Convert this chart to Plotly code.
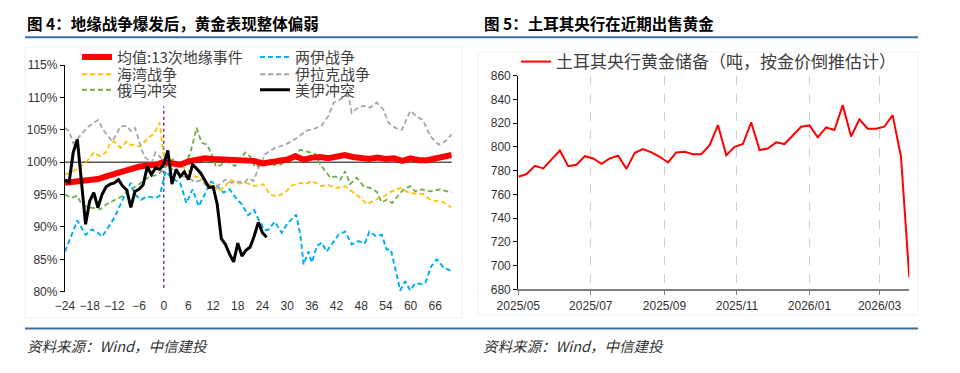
import plotly.graph_objects as go
import pandas as pd

W, H = 960, 373

# ---------------- Left panel data (图4) ----------------
x_ticks_left = list(range(-24, 67, 6))
y_ticks_left = [80, 85, 90, 95, 100, 105, 110, 115]
y_labels_left = ["80%", "85%", "90%", "95%", "100%", "105%", "110%", "115%"]

mean_t = list(range(-24, 71, 2))
mean_v = [96.8, 96.9, 97.0, 97.1, 97.4, 97.8, 98.2, 98.6, 99.0, 99.3, 99.5, 99.6,
          100.0, 99.7, 99.6, 100.1, 100.4, 100.6, 100.5, 100.4, 100.4, 100.2, 100.3, 100.2,
          99.8, 100.0, 100.2, 100.4, 100.9, 100.4, 100.7, 100.8, 100.6, 100.8, 101.1, 100.8,
          100.7, 100.5, 100.7, 100.5, 100.6, 100.2, 100.6, 100.3, 100.3, 100.6, 100.9, 101.1]

iran_iraq_t = [-24, -22, -21, -19, -17.5, -16, -15, -13, -12, -10, -8, -7, -5.5, -4, -2, -1,
               0.5, 2, 4, 5.5, 7, 8.5, 10, 11.5, 12.5, 14.5, 16, 17.5, 19, 20.5, 22, 23, 24.5,
               25.5, 27, 28.7, 30, 31.5, 32.2, 33.2, 34, 35.2, 36, 37.2, 38.4, 39.6, 41, 42.5,
               44.1, 45.7, 47.3, 48.9, 50, 51.5, 53, 54.2, 55.2, 56.3, 57.5, 58.7, 59.9, 61.1,
               62.8, 63.6, 65, 66.4, 68, 70]
iran_iraq_v = [86.2, 89.6, 91.0, 88.8, 89.6, 89.1, 88.5, 90.4, 91.4, 94.2, 96.8, 95.0, 94.2,
               94.7, 94.5, 94.8, 98.6, 97.5, 96.8, 93.7, 95.8, 93.2, 95.0, 97.0, 96.6, 95.3,
               95.8, 94.5, 93.5, 91.8, 92.6, 91.2, 89.5, 89.6, 90.8, 89.1, 90.5, 91.5, 91.9,
               88.8, 84.2, 86.2, 84.5, 87.0, 87.6, 86.2, 87.4, 88.8, 89.3, 87.3, 87.8, 87.5,
               89.3, 88.6, 88.8, 86.5, 86.5, 83.4, 80.2, 81.6, 80.2, 81.3, 81.2, 81.4, 83.9,
               85.0, 83.7, 83.2]

gulf_t = [-24, -22, -20, -18.5, -17, -15.5, -14, -13, -12, -10.5, -9, -8, -6, -5, -3.7, -2.5,
          -1, 0, 1.5, 3, 4.5, 6, 7.5, 9, 10.5, 12, 13.3, 15, 16.1, 18.2, 20, 22.2, 24.2, 25.9,
          27.5, 29.5, 31.1, 33.2, 34.5, 36, 38.4, 40, 42, 44, 45.7, 47.8, 49.4, 51.4, 53.4,
          55.5, 57.5, 59.5, 61.5, 63, 64.8, 66.4, 68, 70]
gulf_v = [98.1, 98.6, 99.4, 100.3, 101.5, 100.9, 101.5, 103.0, 103.2, 102.2, 103.2, 102.7,
          102.4, 102.9, 103.8, 104.3, 106.1, 100.9, 100.5, 100.0, 99.3, 98.7, 97.8, 97.6,
          96.6, 96.5, 95.5, 96.3, 97.3, 96.7, 96.8, 96.3, 96.6, 95.0, 94.7, 95.3, 96.4, 96.8,
          96.6, 97.1, 96.3, 96.5, 96.0, 96.3, 95.5, 94.5, 93.5, 94.2, 94.7, 95.5, 96.0, 95.3,
          95.1, 95.1, 94.2, 94.0, 93.8, 93.0]

iraq_t = [-24, -23, -22, -20, -18.5, -16, -14.5, -12.5, -10.5, -9, -8, -7, -6, -4.8, -3, -2,
          -1, 0, 1.5, 3, 4.5, 6, 7.5, 9, 10.5, 12, 13.5, 15, 16.5, 18, 19.5, 20.6, 21.8, 23,
          24.6, 27, 29.5, 31, 33, 34.5, 36.8, 38.4, 40, 41.3, 42.9, 44.9, 45.7, 47, 48.6, 50.2,
          51.8, 53.4, 54.6, 56.3, 57.9, 59.9, 61.9, 63, 64.8, 66.8, 68.4, 70]
iraq_v = [105.3, 104.8, 102.9, 104.3, 105.4, 106.5, 104.8, 103.2, 105.5, 105.6, 104.8, 105.3,
          103.2, 100.9, 99.9, 101.5, 100.9, 100.2, 99.2, 98.5, 97.8, 97.6, 96.9, 97.2, 96.3,
          95.8, 96.6, 97.3, 96.8, 97.0, 96.8, 97.5, 97.1, 99.0, 101.2, 102.2, 102.7, 103.2,
          104.0, 104.8, 105.2, 105.7, 107.1, 109.2, 109.7, 110.3, 107.6, 108.3, 108.7, 108.4,
          109.2, 108.1, 106.1, 105.3, 105.0, 107.9, 106.9, 106.5, 104.0, 102.7, 103.2, 104.3]

ru_t = [-24, -22.4, -21, -20, -18.3, -16.5, -15.5, -13.9, -11.8, -10.2, -8.2, -6.6, -5, -3.3,
        -1.7, -0.5, 0.7, 2.3, 3.5, 5.2, 6.5, 8, 9.2, 10.5, 11.7, 12.7, 14, 15.3, 17.3, 18.5,
        19.8, 21, 22.2, 23.3, 25, 26.7, 28.3, 29.9, 31.5, 33.2, 35.2, 36.8, 38, 39.2, 40.5,
        41.7, 42.9, 44.1, 45.3, 46.9, 48.6, 50.2, 51.8, 53, 54.2, 55.5, 56.7, 58.3, 59.9,
        61.1, 62.8, 64.8, 67.2, 68.5, 70]
ru_v = [95.0, 94.5, 94.8, 93.5, 93.0, 92.9, 92.7, 93.5, 94.2, 94.7, 95.8, 96.3, 97.1, 97.8,
        98.0, 98.6, 99.4, 100.4, 99.8, 99.6, 101.5, 105.3, 103.0, 102.7, 101.2, 99.3, 99.6,
        100.1, 99.4, 100.3, 101.5, 100.9, 99.2, 99.5, 100.0, 99.6, 99.6, 100.3, 100.9, 101.9,
        101.5, 101.3, 99.7, 98.7, 97.6, 97.8, 97.3, 98.6, 96.6, 97.6, 96.3, 96.0, 95.4, 93.8,
        94.2, 93.7, 94.6, 95.8, 96.3, 95.5, 95.8, 95.5, 95.8, 95.6, 95.3]

us_iran_t = list(range(-24, 26))
us_iran_v = [97.3, 96.9, 101.5, 103.5, 97.0, 90.4, 94.0, 95.3, 93.0, 95.0, 96.2, 96.6, 96.8,
             97.3, 96.3, 95.7, 93.0, 95.5, 95.8, 96.5, 99.3, 98.1, 99.1, 98.9, 99.6, 101.8,
             96.6, 98.9, 97.8, 98.5, 97.3, 99.6, 99.0, 98.3, 97.2, 96.1, 96.2, 93.5, 88.2,
             87.3, 85.8, 84.6, 87.5, 85.5, 86.4, 86.9, 88.6, 90.7, 89.1, 88.4]

# ---------------- Right panel data (图5) ----------------
reserve_start = "2025-05-01"
reserve_v = [774.8, 777.1, 784.1, 781.9, 789.5, 797.0, 783.8, 785.0, 792.2, 790.3, 785.8,
             790.3, 792.5, 781.5, 795.0, 798.1, 795.4, 791.7, 786.9, 795.3, 795.9, 793.9,
             793.9, 801.5, 818.4, 793.0, 800.0, 802.4, 820.6, 797.3, 798.7, 803.8, 802.4,
             809.4, 817.0, 818.1, 808.0, 816.4, 814.2, 835.2, 808.8, 823.2, 815.3, 815.3,
             817.0, 826.8, 791.7, 690.1]
reserve_dates = pd.date_range(reserve_start, periods=len(reserve_v), freq="7D")
y_ticks_right = list(range(680, 861, 20))


def px(x):
    return x / W


def py(y):
    return 1 - y / H


CJK = "Noto Sans CJK SC"
TICKFONT = dict(family="Liberation Sans Narrow, Arial Narrow, Liberation Sans, Arial", size=12,
                color="#333333")
LEGFONT = dict(family=CJK, size=15, color="#404040")
DASH = "5px,3px"

fig = go.Figure()

fig.add_trace(go.Scatter(x=iran_iraq_t, y=iran_iraq_v, name="两伊战争", mode="lines",
                         line=dict(color="#00B0F0", width=2, dash=DASH),
                         legend="legend", legendrank=2, xaxis="x", yaxis="y"))
fig.add_trace(go.Scatter(x=gulf_t, y=gulf_v, name="海湾战争", mode="lines",
                         line=dict(color="#FFC000", width=1.8, dash=DASH),
                         legend="legend2", legendrank=1, xaxis="x", yaxis="y"))
fig.add_trace(go.Scatter(x=iraq_t, y=iraq_v, name="伊拉克战争", mode="lines",
                         line=dict(color="#A6A6A6", width=1.8, dash=DASH),
                         legend="legend2", legendrank=2, xaxis="x", yaxis="y"))
fig.add_trace(go.Scatter(x=ru_t, y=ru_v, name="俄乌冲突", mode="lines",
                         line=dict(color="#70AD47", width=1.8, dash=DASH),
                         legend="legend3", legendrank=1, xaxis="x", yaxis="y"))
fig.add_trace(go.Scatter(x=mean_t, y=mean_v, name="均值:13次地缘事件", mode="lines",
                         line=dict(color="#FF0000", width=6),
                         legend="legend", legendrank=1, xaxis="x", yaxis="y"))
fig.add_trace(go.Scatter(x=us_iran_t, y=us_iran_v, name="美伊冲突", mode="lines",
                         line=dict(color="#000000", width=3),
                         legend="legend3", legendrank=2, xaxis="x", yaxis="y"))

fig.add_trace(go.Scatter(x=reserve_dates, y=reserve_v,
                         name="土耳其央行黄金储备（吨，按金价倒推估计）", mode="lines",
                         line=dict(color="#FF0000", width=2),
                         legend="legend4", xaxis="x2", yaxis="y2"))

leg_common = dict(orientation="h", xanchor="left", yanchor="middle", font=LEGFONT,
                  bgcolor="rgba(0,0,0,0)", itemwidth=30, entrywidth=133, borderwidth=0,
                  itemclick=False, itemdoubleclick=False)

axis_common = dict(automargin=False, fixedrange=True, zeroline=False, tickfont=TICKFONT,
                   tickangle=0)

fig.update_layout(
    width=W, height=H,
    margin=dict(l=0, r=0, t=0, b=0, autoexpand=False),
    paper_bgcolor="white", plot_bgcolor="white",
    showlegend=True,
    legend=dict(x=px(77), y=py(57.3), **leg_common),
    legend2=dict(x=px(77), y=py(74.5), **leg_common),
    legend3=dict(x=px(77), y=py(90), **leg_common),
    legend4=dict(x=px(516), y=py(62), xanchor="left", yanchor="middle", orientation="h",
                 font=dict(family=CJK, size=17, color="#404040"), bgcolor="rgba(0,0,0,0)",
                 itemwidth=30),
    xaxis=dict(domain=[px(65), px(451.7)], range=[-24, 70], tickvals=x_ticks_left,
               showline=False, ticks="", showgrid=False, anchor="y",
               ticklabelstandoff=5, **axis_common),
    yaxis=dict(domain=[py(291.7), py(65)], range=[80, 115], tickvals=y_ticks_left,
               ticktext=y_labels_left, showline=True, linecolor="#000000", linewidth=1.3,
               ticks="outside", ticklen=4, tickcolor="#000000", showgrid=False,
               anchor="x", **axis_common),
    xaxis2=dict(domain=[px(518.3), px(909.3)], type="date",
                range=["2025-05-01", "2026-03-26"], tick0="2025-05-01", dtick="M2",
                tickformat="%Y/%m", showline=True, linecolor="#808080", linewidth=2,
                ticks="outside", ticklen=4, tickcolor="#808080", showgrid=True,
                gridcolor="#CFCFCF", griddash="dash", gridwidth=1.2,
                anchor="y2", **axis_common),
    yaxis2=dict(domain=[py(289.3), py(75.7)], range=[680, 860], tickvals=y_ticks_right,
                showline=True, linecolor="#000000", linewidth=1.3, ticks="outside",
                ticklen=4, tickcolor="#000000", showgrid=False,
                anchor="x2", **axis_common),
)

shapes = []
# faint panel frames
shapes.append(dict(type="rect", xref="paper", yref="paper", x0=px(25), x1=px(462),
                   y0=py(318), y1=py(47), line=dict(color="#F0F0F0", width=1),
                   layer="below"))
shapes.append(dict(type="rect", xref="paper", yref="paper", x0=px(478), x1=px(918),
                   y0=py(315), y1=py(52), line=dict(color="#F0F0F0", width=1),
                   layer="below"))
# blue separator lines
for yy in (37.3, 328.6):
    shapes.append(dict(type="line", xref="paper", yref="paper", x0=px(25), x1=px(918),
                       y0=py(yy), y1=py(yy), line=dict(color="#3A6E9F", width=2)))
# 100% reference line (x axis crossing)
shapes.append(dict(type="line", xref="x domain", yref="y", x0=0, x1=1, y0=100, y1=100,
                   line=dict(color="#595959", width=1.5), layer="below"))
# event day marker
shapes.append(dict(type="line", xref="x", yref="y", x0=0, x1=0, y0=80.6, y1=108.6,
                   line=dict(color="#7030A0", width=1.5, dash="dot"), layer="below"))
fig.update_layout(shapes=shapes)

TITLEFONT = dict(family=CJK, size=15.5, color="#000000")
SRCFONT = dict(family=CJK, size=14.5, color="#333333")
annotations = [
    dict(text="<b>图 4：地缘战争爆发后，黄金表现整体偏弱</b>", x=px(25), y=py(23),
         xanchor="left", yanchor="middle", font=TITLEFONT),
    dict(text="<b>图 5：土耳其央行在近期出售黄金</b>", x=px(481.5), y=py(23),
         xanchor="left", yanchor="middle", font=TITLEFONT),
    dict(text="<i>资料来源：Wind，中信建投</i>", x=px(25), y=py(345),
         xanchor="left", yanchor="middle", font=SRCFONT),
    dict(text="<i>资料来源：Wind，中信建投</i>", x=px(480.5), y=py(345),
         xanchor="left", yanchor="middle", font=SRCFONT),
]
for a in annotations:
    a.update(xref="paper", yref="paper", showarrow=False)
fig.update_layout(annotations=annotations)

fig.write_html("out.html", config={"displayModeBar": False},
               post_script="document.body.style.margin='0';document.body.style.padding='0';")
